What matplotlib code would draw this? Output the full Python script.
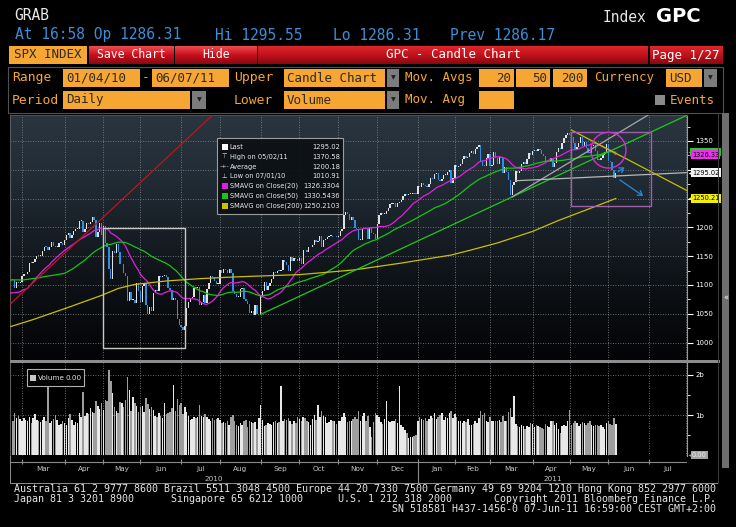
import numpy as np
import pandas as pd
import matplotlib
matplotlib.use("Agg")
import matplotlib.pyplot as plt
import matplotlib.transforms as mtransforms
from matplotlib.patches import Rectangle, Ellipse, FancyArrowPatch
from matplotlib.colors import LinearSegmentedColormap

# ---------------- data ----------------
holidays = ['2009-12-25', '2010-01-01', '2010-01-18', '2010-02-15', '2010-04-02',
            '2010-05-31', '2010-07-05', '2010-09-06', '2010-11-25', '2010-12-24',
            '2011-01-17', '2011-02-21', '2011-04-22', '2011-05-30', '2011-07-04',
            '2011-09-05']

# closes before the visible window (feed the moving averages)
warmup_close = [
    1108.9, 1109.2, 1099.9, 1106.0, 1103.3, 1091.9, 1096.0, 1102.4, 1106.4,
    1114.1, 1107.9, 1109.2, 1096.1, 1102.5, 1114.1, 1118.0, 1120.6, 1126.5,
    1127.8, 1126.2, 1126.4, 1115.1,
    1133.0, 1136.5, 1137.1, 1141.7, 1145.0, 1147.0, 1136.2, 1145.7, 1148.5, 1136.0,
    1150.2, 1138.0, 1116.5, 1091.8, 1096.8, 1092.2, 1097.5, 1084.5, 1073.9,
    1089.2, 1103.3, 1097.3, 1063.1, 1066.2, 1056.7, 1070.5, 1068.1, 1078.5, 1075.5,
    1094.9, 1099.5, 1106.8, 1109.2,
]

# daily closes 22 Feb 2010 .. 7 Jun 2011
close = [
    1108.0, 1094.6, 1105.2, 1102.9, 1104.5,
    1115.7, 1118.3, 1118.8, 1123.0, 1138.7,
    1138.5, 1140.4, 1145.6, 1150.2, 1150.0,
    1150.5, 1159.5, 1166.2, 1165.8, 1159.9,
    1165.8, 1174.2, 1167.7, 1165.7, 1166.6,
    1173.2, 1173.3, 1169.4, 1178.1,
    1187.4, 1189.4, 1182.4, 1186.4, 1194.4,
    1196.5, 1197.3, 1210.7, 1211.7, 1192.1,
    1197.5, 1207.2, 1205.9, 1208.7, 1217.3,
    1212.1, 1183.7, 1191.4, 1206.8, 1186.7,
    1202.3, 1173.6, 1165.9, 1128.2, 1110.9,
    1159.7, 1155.8, 1171.7, 1157.4, 1135.7,
    1136.9, 1120.8, 1115.1, 1071.6, 1087.7,
    1073.7, 1074.0, 1067.9, 1103.1, 1089.4,
    1070.7, 1098.4, 1102.8, 1064.9,
    1050.5, 1062.0, 1055.7, 1086.8, 1091.6,
    1089.6, 1115.2, 1114.6, 1116.0, 1117.5,
    1113.2, 1095.3, 1092.0, 1073.7, 1076.8,
    1074.6, 1041.2, 1030.7, 1027.4, 1022.6,
    1028.1, 1060.3, 1070.3, 1078.0,
    1078.8, 1095.3, 1095.2, 1096.5, 1064.9,
    1071.3, 1083.5, 1069.6, 1093.7, 1102.7,
    1115.0, 1113.8, 1106.1, 1101.5, 1101.6,
    1125.9, 1120.5, 1127.2, 1125.8, 1121.6,
    1127.8, 1121.1, 1089.5, 1083.6, 1079.3,
    1079.4, 1092.5, 1094.2, 1075.6, 1071.7,
    1067.4, 1051.9, 1055.3, 1047.2, 1064.6,
    1048.9, 1049.3, 1080.3, 1090.1, 1104.5,
    1091.8, 1098.9, 1104.2, 1109.6,
    1121.9, 1121.1, 1125.1, 1124.7, 1125.6,
    1142.7, 1139.8, 1134.3, 1124.8, 1148.7,
    1142.2, 1147.7, 1144.7, 1141.2, 1146.2,
    1137.0, 1160.8, 1160.0, 1158.1, 1165.2,
    1165.3, 1169.8, 1178.1, 1173.8, 1176.2,
    1184.7, 1165.9, 1178.2, 1180.3, 1183.1,
    1185.6, 1185.6, 1182.5, 1183.8, 1183.3,
    1184.4, 1193.6, 1198.0, 1221.1, 1225.9,
    1223.3, 1213.4, 1218.7, 1213.5, 1199.2,
    1197.8, 1178.3, 1178.6, 1196.7, 1199.7,
    1197.8, 1180.7, 1198.4, 1189.4,
    1187.8, 1180.6, 1206.1, 1221.5, 1224.7,
    1223.1, 1223.8, 1228.3, 1233.0, 1240.4,
    1240.5, 1241.6, 1235.2, 1242.9, 1243.9,
    1247.1, 1254.6, 1258.8, 1256.8,
    1257.5, 1258.5, 1259.8, 1257.9, 1257.6,
    1271.9, 1270.2, 1276.6, 1273.9, 1271.5,
    1269.8, 1274.5, 1286.0, 1283.8, 1293.2,
    1295.0, 1281.9, 1280.3, 1283.4,
    1290.8, 1291.2, 1296.6, 1299.5, 1276.3,
    1286.1, 1307.6, 1304.0, 1307.1, 1310.9,
    1319.1, 1324.6, 1320.9, 1321.9, 1329.2,
    1332.3, 1328.0, 1336.3, 1340.4, 1343.0,
    1315.4, 1307.4, 1306.1, 1319.9,
    1327.2, 1306.3, 1308.4, 1331.0, 1321.2,
    1310.1, 1321.8, 1320.0, 1295.1, 1304.3,
    1296.4, 1281.9, 1256.9, 1273.7, 1279.2,
    1298.4, 1293.8, 1297.5, 1309.7, 1313.8,
    1310.2, 1319.4, 1328.3, 1325.8, 1332.4,
    1332.9, 1332.6, 1335.5, 1333.5, 1328.2,
    1324.5, 1314.2, 1314.4, 1314.5, 1319.7,
    1305.1, 1312.6, 1330.4, 1337.4,
    1335.3, 1347.2, 1355.7, 1360.5, 1363.6,
    1361.2, 1356.6, 1347.3, 1335.1, 1340.2,
    1346.3, 1357.2, 1342.1, 1348.7, 1337.8,
    1329.5, 1329.0, 1340.7, 1343.6, 1333.3,
    1317.4, 1316.3, 1320.5, 1325.7, 1331.1,
    1345.2, 1314.6, 1312.9, 1300.2,
    1286.2, 1295.0,
]

# daily volume (billions), same days as close
volume = [
    0.86, 1.04, 0.92, 0.97, 0.90,
    0.85, 0.92, 0.88, 0.84, 0.94,
    0.80, 0.93, 1.02, 0.88, 0.86,
    0.82, 0.88, 0.95, 0.86, 1.72,
    0.80, 0.86, 0.90, 1.00, 0.88,
    0.74, 0.78, 0.84, 0.80,
    0.76, 0.92, 1.02, 0.88, 0.74,
    0.82, 0.80, 1.04, 0.96, 1.58,
    0.98, 1.05, 1.02, 1.18, 1.08,
    1.04, 1.36, 1.22, 1.14, 1.30,
    1.12, 1.38, 1.35, 2.12, 1.85,
    1.55, 1.20, 1.10, 1.05, 1.32,
    1.30, 1.20, 1.38, 1.95, 1.62,
    1.10, 1.45, 1.30, 1.22, 1.08,
    1.20, 1.22, 1.08, 1.42,
    1.28, 1.15, 1.20, 1.12, 0.98,
    0.96, 1.06, 0.98, 0.92, 1.30,
    1.02, 1.05, 1.08, 1.18, 1.75,
    1.10, 1.40, 1.25, 1.30, 1.02,
    1.20, 1.08, 0.98, 0.88,
    0.90, 0.96, 0.92, 0.94, 1.25,
    0.98, 0.94, 1.02, 0.96, 0.90,
    0.84, 0.92, 0.88, 0.90, 0.92,
    0.88, 0.80, 0.82, 0.80, 0.86,
    0.76, 0.94, 1.00, 0.86, 0.74,
    0.72, 0.80, 0.74, 0.84, 0.88,
    0.70, 0.86, 0.82, 0.80, 0.82,
    0.66, 0.92, 1.24, 0.88, 0.72,
    0.76, 0.80, 0.78, 0.74,
    0.82, 0.84, 0.80, 0.82, 1.72,
    0.86, 0.90, 0.88, 0.92, 0.86,
    0.78, 0.86, 0.80, 0.94, 0.90,
    0.84, 0.96, 0.92, 0.86, 0.82,
    0.74, 0.90, 1.00, 0.88, 1.24,
    0.96, 1.10, 0.98, 0.94, 0.80,
    0.82, 0.88, 0.86, 0.84, 0.78,
    0.86, 0.84, 0.96, 1.05, 0.94,
    0.82, 0.86, 0.84, 0.90, 0.96,
    0.90, 1.10, 0.86, 0.98, 1.06,
    0.84, 0.98, 0.70, 0.45,
    0.82, 1.06, 1.00, 0.96, 0.82,
    0.78, 0.90, 1.35, 0.86, 0.82,
    0.84, 0.86, 0.90, 0.80, 1.72,
    0.76, 0.70, 0.62, 0.55,
    0.42, 0.46, 0.44, 0.48, 0.50,
    0.86, 0.94, 0.90, 0.88, 0.92,
    0.84, 0.90, 0.98, 0.92, 1.04,
    0.90, 0.96, 1.00, 1.06,
    0.88, 0.94, 0.92, 1.04, 1.10,
    0.92, 1.02, 0.94, 0.84, 0.86,
    0.80, 0.86, 0.82, 0.90, 0.76,
    0.74, 0.78, 0.84, 0.80, 0.92,
    1.10, 1.00, 1.04, 0.84,
    0.82, 0.96, 0.86, 0.84, 0.86,
    0.84, 0.88, 0.82, 0.98, 0.84,
    0.86, 1.08, 1.18, 0.96, 1.48,
    0.78, 0.72, 0.70, 0.74, 0.72,
    0.66, 0.72, 0.70, 0.80, 0.78,
    0.70, 0.74, 0.72, 0.70, 0.68,
    0.64, 0.78, 0.72, 0.70, 0.84,
    0.86, 0.74, 0.80, 0.66,
    0.56, 0.72, 0.76, 0.72, 0.84,
    1.12, 0.76, 0.80, 0.86, 0.80,
    0.72, 0.78, 0.82, 0.80, 0.76,
    0.80, 0.84, 0.74, 0.72, 0.76,
    0.74, 0.72, 0.76, 0.70, 0.66,
    0.80, 0.86, 0.78, 0.74,
    0.92, 0.78,
]

# 200-day average
sma200_dates = ['2010-02-19', '2010-03-09', '2010-04-05', '2010-04-30', '2010-05-13',
                '2010-05-26', '2010-06-21', '2010-07-16', '2010-08-12', '2010-09-07',
                '2010-10-01', '2010-11-11', '2010-12-20', '2011-01-28', '2011-02-14',
                '2011-03-07', '2011-04-01', '2011-04-21', '2011-05-18', '2011-06-07']
sma200 = [1028, 1040, 1060, 1082, 1094, 1101, 1107, 1111, 1114, 1116,
          1118, 1126, 1138, 1152, 1161, 1173, 1193, 1212, 1234, 1250.2]

# hand-drawn annotations (date, price)
red_line = (['2010-02-18', '2010-07-27'], [1065, 1395])
green_line = (['2010-09-01', '2011-08-05'], [1049, 1400])
gray_line = (['2011-03-17', '2011-07-05'], [1253, 1398])
flat_line = (['2011-03-21', '2011-08-01'], [1281, 1295])
yellow_line = (['2011-05-03', '2011-08-05'], [1369, 1258])
white_box = (['2010-05-03', '2010-07-06'], [991, 1199])
purple_box = (['2011-05-03', '2011-07-05'], [1237, 1366])
circle_center = ('2011-06-01', 1334)
circle_size = (19, 62)   # trading days, points
arrows = [(['2011-06-07', '2011-06-15'], [1294, 1307]),
          (['2011-06-08', '2011-06-29'], [1285, 1252])]

legend_labels = ['Last', 'High on 05/02/11', 'Average', 'Low on 07/01/10',
                 'SMAVG on Close(20)', 'SMAVG on Close(50)', 'SMAVG on Close(200)']
legend_values = ['1295.02', '1370.58', '1200.18', '1010.91',
                 '1326.3304', '1330.5436', '1250.2103']

month_names = ['Mar', 'Apr', 'May', 'Jun', 'Jul', 'Aug', 'Sep', 'Oct', 'Nov', 'Dec',
               'Jan', 'Feb', 'Mar', 'Apr', 'May', 'Jun', 'Jul']

# ---------------- setup ----------------
W, H = 736, 527
fig = plt.figure(figsize=(W / 100, H / 100), dpi=100, facecolor='black')
MONO = 'DejaVu Sans Mono'
SANS = 'DejaVu Sans'
ORANGE = '#f6a632'
MAG, GRN, YEL = '#e020e0', '#16c416', '#c8c000'


def fx(x):
    return x / W


def fy(y):
    return 1 - y / H


def add_ax(x0, y0, x1, y1):
    return fig.add_axes([x0 / W, 1 - y1 / H, (x1 - x0) / W, (y1 - y0) / H])


def box(x0, y0, x1, y1, fc, ec='none', lw=0.8, z=1, alpha=1):
    fig.add_artist(Rectangle((fx(x0), fy(y1)), (x1 - x0) / W, (y1 - y0) / H,
                             transform=fig.transFigure, fc=fc, ec=ec, lw=lw,
                             zorder=z, alpha=alpha))


def txt(x, y, s, size=9, color='white', ha='left', family=MONO, weight='normal', z=5):
    fig.text(fx(x), fy(y), s, fontsize=size, color=color, ha=ha, va='center',
             family=family, weight=weight, zorder=z)


def grad_box(x0, y0, x1, y1, colors):
    a = add_ax(x0, y0, x1, y1)
    a.imshow(np.linspace(0, 1, 32).reshape(-1, 1), aspect='auto', origin='upper',
             cmap=LinearSegmentedColormap.from_list('g', colors), extent=[0, 1, 0, 1])
    a.axis('off')
    return a


# trading-day positions
days = pd.bdate_range('2009-12-01', '2011-09-30', freq='C', holidays=holidays)
daynum = days.values.astype('datetime64[D]').astype(float)


def pos(d):
    v = np.datetime64(pd.Timestamp(d).date(), 'D').astype(float)
    return float(np.interp(v, daynum, np.arange(len(days))))


all_close = np.array(warmup_close + close)
n_all = len(all_close)
i0 = len(warmup_close)
xs = np.arange(n_all)
opens = np.concatenate([[all_close[0]], all_close[:-1]])
s = pd.Series(all_close)
sma20 = s.rolling(20).mean()
sma50 = s.rolling(50).mean()

x_left = pos('2010-02-19') - 0.5
x_right = pos('2011-07-29') + 1.5
months = pd.date_range('2010-03-01', '2011-08-01', freq='MS')
month_pos = [float(np.searchsorted(days, m)) for m in months]

# ---------------- header ----------------
txt(14, 16, 'GRAB', 10.5, '#e8e8e8')
txt(603, 17, 'Index', 10.5, '#e8e8e8')
txt(656, 17, 'GPC', 14, 'white', family=SANS, weight='bold')
for x, t in [(15, 'At 16:58 Op 1286.31'), (215, 'Hi 1295.55'),
             (333, 'Lo 1286.31'), (450, 'Prev 1286.17')]:
    txt(x, 35, t, 10.5, '#3a8fd8')

# red toolbar
box(9, 46, 87, 64, ORANGE)
txt(48, 55, 'SPX INDEX', 9, '#2e2a24', ha='center')
grad_box(89, 46, 174, 64, ['#f04a50', '#c8101c', '#8a0810'])
grad_box(175, 46, 257, 64, ['#f04a50', '#c8101c', '#8a0810'])
grad_box(258, 46, 648, 64, ['#e0242c', '#c0121a', '#8a0810'])
grad_box(650, 46, 723, 64, ['#e0242c', '#c0121a', '#8a0810'])
txt(131, 55, 'Save Chart', 8.3, 'white', ha='center')
txt(216, 55, 'Hide', 8.3, 'white', ha='center')
txt(453, 55, 'GPC - Candle Chart', 9, 'white', ha='center')
txt(686, 55, 'Page 1/27', 9, 'white', ha='center')

# settings panel
box(8, 67, 723, 113, 'black', ec='#505050', lw=0.8, z=0.5)


def field(x0, x1, y0, y1, label='', align='left'):
    box(x0, y0, x1, y1, ORANGE)
    if label:
        if align == 'left':
            txt(x0 + 3, (y0 + y1) / 2, label, 9, '#2e2a24')
        else:
            txt(x1 - 3, (y0 + y1) / 2, label, 9, '#2e2a24', ha='right')


def dropdown(x0, x1, y0, y1):
    box(x0, y0, x1, y1, '#7c7c7c')
    txt((x0 + x1) / 2, (y0 + y1) / 2, '\u25bc', 4.5, '#1e1e1e', ha='center', family=SANS)


r1a, r1b = 69, 87
r2a, r2b = 91, 109
txt(12, 78, 'Range', 9.4, ORANGE)
field(63, 140, r1a, r1b, '01/04/10')
txt(146, 78, '-', 9.4, ORANGE, ha='center')
field(152, 229, r1a, r1b, '06/07/11')
txt(234, 78, 'Upper', 9.4, ORANGE)
field(284, 385, r1a, r1b, 'Candle Chart')
dropdown(387, 399, r1a, r1b)
txt(405, 78, 'Mov. Avgs', 9, ORANGE)
field(479, 514, r1a, r1b, '20', 'right')
field(516, 550, r1a, r1b, '50', 'right')
field(553, 587, r1a, r1b, '200', 'right')
txt(594, 78, 'Currency', 9, ORANGE)
field(666, 702, r1a, r1b, 'USD')
dropdown(704, 717, r1a, r1b)

txt(12, 100, 'Period', 9.4, ORANGE)
field(63, 190, r2a, r2b, 'Daily')
dropdown(192, 206, r2a, r2b)
txt(234, 100, 'Lower', 9.4, ORANGE)
field(284, 385, r2a, r2b, 'Volume')
dropdown(387, 399, r2a, r2b)
txt(405, 100, 'Mov. Avg', 9, ORANGE)
field(479, 514, r2a, r2b)
box(655, 95, 665, 105, '#8a8a8a')
txt(670, 100, 'Events', 9, ORANGE)

# ---------------- price panel ----------------
ax = add_ax(10, 115, 687, 360)
y_lo, y_hi = 969.8, 1395.1
ax.set_xlim(x_left, x_right)
ax.set_ylim(y_lo, y_hi)
bg = LinearSegmentedColormap.from_list('bg', ['#040406', '#0b0e12', '#161d24', '#222c36', '#2a3540'])
ax.imshow(np.linspace(0, 1, 256).reshape(-1, 1), aspect='auto', cmap=bg, origin='lower',
          extent=[x_left, x_right, y_lo, y_hi], zorder=0)

ax.set_xticks(month_pos)
ax.set_yticks(range(1000, 1351, 50))
ax.set_yticks(range(1025, 1376, 50), minor=True)
ax.grid(True, which='major', color='#8c8c8c', ls=(0, (1, 2)), lw=0.6, zorder=1)
ax.tick_params(axis='x', length=0, labelbottom=False)
ax.yaxis.tick_right()
ax.set_yticklabels(['' if v in (1250, 1300) else str(v) for v in range(1000, 1351, 50)])
ax.tick_params(axis='y', which='major', colors='white', labelsize=5, length=4,
               width=0.8, pad=2)
ax.tick_params(axis='y', which='minor', colors='white', length=2, width=0.6)
ax.spines['bottom'].set_visible(False)
ax.spines['top'].set_color('#505050')
ax.spines['left'].set_color('#5a5a5a')
ax.spines['right'].set_color('#9a9a9a')

up = all_close >= opens
body_lo = np.minimum(opens, all_close)
body_h = np.maximum(np.abs(all_close - opens), 1.6)
cols = np.where(up, '#e2e2e2', '#2f8fe0')
ax.bar(xs[i0:], body_h[i0:], bottom=body_lo[i0:], width=0.72, color=cols[i0:],
       lw=0, zorder=3)

ax.plot(xs, sma20, color=MAG, lw=0.9, zorder=4)
ax.plot(xs, sma50, color=GRN, lw=0.9, zorder=4)
ax.plot([pos(d) for d in sma200_dates], sma200, color=YEL, lw=0.9, zorder=4)

# annotations
for (dts, vals), c in [(red_line, '#c0141c'), (green_line, '#1ec81e'),
                       (gray_line, '#a8a8a8'), (flat_line, '#b8b8b8'),
                       (yellow_line, '#c8c000')]:
    ax.plot([pos(d) for d in dts], vals, color=c, lw=0.9, zorder=5)
for (dts, vals), c in [(white_box, '#c8c8c8'), (purple_box, '#a060a8')]:
    x0, x1 = pos(dts[0]), pos(dts[1])
    ax.add_patch(Rectangle((x0, vals[0]), x1 - x0, vals[1] - vals[0], fill=False,
                           ec=c, lw=1.0, zorder=5))
ax.add_patch(Ellipse((pos(circle_center[0]), circle_center[1]), circle_size[0],
                     circle_size[1], fill=False, ec='#d030d0', lw=1.0, zorder=5))
for dts, vals in arrows:
    ax.add_patch(FancyArrowPatch((pos(dts[0]), vals[0]), (pos(dts[1]), vals[1]),
                                 arrowstyle='->,head_length=3,head_width=2',
                                 color='#2a8ad8', lw=0.9, zorder=6))


def tag(axis, value, label, fc, tc='black'):
    tr = mtransforms.blended_transform_factory(axis.transAxes, axis.transData)
    axis.plot([1.006], [value], marker='<', ms=4.5, color=fc, mec='none',
              transform=tr, clip_on=False, zorder=10)
    if label is None:
        # a plain tag body (its text is hidden behind the next tag)
        y0, y1 = axis.get_ylim()
        h = 8 * (y1 - y0) / axis.bbox.height
        axis.add_patch(Rectangle((1 + 3 / axis.bbox.width, value - h / 2),
                                 31 / axis.bbox.width, h, transform=tr, fc=fc,
                                 ec='none', clip_on=False, zorder=9))
        return
    axis.annotate(label, xy=(1, value), xycoords=tr, xytext=(3.6, 0),
                  textcoords='offset points', fontsize=4.8, color=tc, va='center',
                  ha='left', family=SANS, annotation_clip=False, zorder=10,
                  bbox=dict(boxstyle='square,pad=0.2', fc=fc, ec='none'))


tag(ax, 1330.54, None, '#22d022')
tag(ax, 1326.33, '1326.33', '#f030f0')
tag(ax, 1295.02, '1295.02', '#f4f4f4')
tag(ax, 1250.21, '1250.21', '#f0f000')

# legend box
box(217, 138, 343, 214, '#0c1014', ec='#a8a8a8', lw=0.8, z=2, alpha=0.92)
marks = ['sq', '\u22a4', '-+-', '\u22a5', MAG, GRN, YEL]
for k, (lab, val, mk) in enumerate(zip(legend_labels, legend_values, marks)):
    yy = 147 + k * 9.8
    if mk == 'sq':
        box(221.5, yy - 3, 227.5, yy + 3, 'white', z=6)
    elif mk.startswith('#'):
        box(221.5, yy - 3, 227.5, yy + 3, mk, z=6)
    else:
        txt(224.5, yy, mk, 4.6, '#e8e8e8', ha='center', family=SANS, z=6)
    txt(229.5, yy, lab, 4.8, '#e8e8e8', family=SANS, z=6)
    txt(340, yy, val, 4.9, '#e8e8e8', ha='right', family=SANS, z=6)

# separator between panels
box(10, 360, 720, 362.5, '#8c8c8c', z=2)

# ---------------- volume panel ----------------
vax = add_ax(10, 363, 687, 456)
vax.set_facecolor('black')
vax.set_xlim(x_left, x_right)
vax.set_ylim(-0.025, 2.3)
vx = xs[i0:i0 + len(volume)]
vcols = np.where(up[i0:i0 + len(volume)], '#e8e8e8', '#9e9e9e')
vax.bar(vx, volume[:len(vx)], width=0.8, color=vcols, lw=0, zorder=3)
vax.set_xticks(month_pos)
vax.set_yticks([1, 2])
vax.set_yticks([0.5, 1.5], minor=True)
vax.grid(True, which='major', color='#8c8c8c', ls=(0, (1, 2)), lw=0.6, zorder=1)
vax.tick_params(axis='x', length=0, labelbottom=False)
vax.yaxis.tick_right()
vax.set_yticklabels(['1b', '2b'])
vax.tick_params(axis='y', which='major', colors='white', labelsize=5, length=4,
                width=0.8, pad=2)
vax.tick_params(axis='y', which='minor', colors='white', length=2, width=0.6)
for sp in ['top', 'bottom']:
    vax.spines[sp].set_visible(False)
vax.spines['left'].set_color('#5a5a5a')
vax.spines['right'].set_color('#9a9a9a')
tag(vax, 0.0, '0.00', '#a4a4a4', '#f0f0f0')

box(27, 369, 84, 386, 'black', ec='#b0b0b0', lw=0.8, z=2)
box(30, 374.5, 36, 380.5, '#c8c8c8', z=3)
txt(38, 378, 'Volume', 5.2, '#e0e0e0', family=SANS)
txt(66, 378, '0.00', 5.2, '#e0e0e0', family=SANS)

# ---------------- date axis ----------------
dax = add_ax(10, 456, 687, 484)
dax.set_xlim(x_left, x_right)
dax.set_ylim(28, 0)
dax.axis('off')
dax.hlines(6, x_left, x_right, color='#8a8a8a', lw=0.8)
dax.vlines(month_pos[:-1], 3, 8, color='#8a8a8a', lw=0.8)
jan11 = float(np.searchsorted(days, pd.Timestamp('2011-01-01')))
dax.vlines([jan11], 3, 28, color='#8a8a8a', lw=0.8)
for k, name in enumerate(month_names):
    mid = (month_pos[k] + month_pos[k + 1]) / 2
    dax.text(mid, 13, name, fontsize=5.2, color='#c8c8c8', ha='center', va='center',
             family=SANS)
dax.text((x_left + jan11) / 2, 23, '2010', fontsize=5.2, color='#c8c8c8',
         ha='center', va='center', family=SANS)
dax.text((jan11 + x_right) / 2, 23, '2011', fontsize=5.2, color='#c8c8c8',
         ha='center', va='center', family=SANS)
box(10, 483, 718, 484, '#8a8a8a', z=2)
box(10, 456, 10.8, 484, '#8a8a8a', z=2)

# right-hand scroll bar
box(718, 113, 719, 484, '#3a3a3a', z=2)
box(722, 113, 729, 468, '#6e6e6e', z=2)
txt(725.5, 298, '\u00ab', 6, 'white', ha='center', family=SANS)

# ---------------- footer ----------------
FOOT = '#e6e6e6'
txt(14, 489, 'Australia 61 2 9777 8600 Brazil 5511 3048 4500 Europe 44 20 7330 7500 '
    'Germany 49 69 9204 1210 Hong Kong 852 2977 6000', 7.2, FOOT)
txt(14, 499, 'Japan 81 3 3201 8900', 7.2, FOOT)
txt(171, 499, 'Singapore 65 6212 1000', 7.2, FOOT)
txt(338, 499, 'U.S. 1 212 318 2000', 7.2, FOOT)
txt(716, 499, 'Copyright 2011 Bloomberg Finance L.P.', 7.2, FOOT, ha='right')
txt(716, 509, 'SN 518581 H437-1456-0 07-Jun-11 16:59:00 CEST GMT+2:00', 7.2, FOOT,
    ha='right')

fig.savefig('out.png', dpi=100, facecolor='black')
